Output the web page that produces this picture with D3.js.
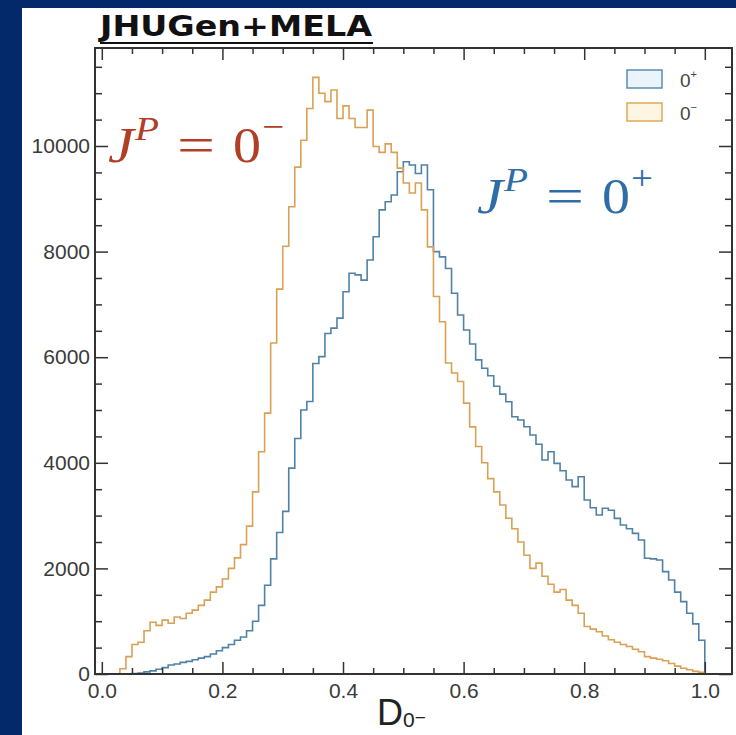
<!DOCTYPE html>
<html>
<head>
<meta charset="utf-8">
<script src="https://cdn.jsdelivr.net/npm/d3@7"></script>
<style>
  html, body { margin: 0; padding: 0; background: #03296a; }
  svg { display: block; }
</style>
</head>
<body>
<svg id="chart" width="736" height="735"></svg>
<script>
// histogram bins: 100 bins of width 0.01 on [0, 1]
const binWidth = 0.01;

// 0+ hypothesis (blue)
const countsPlus = [
  0, 0, 0, 0, 0, 10, 20, 40, 60, 90,
  120, 170, 190, 220, 240, 270, 300, 330, 380, 440,
  500, 560, 640, 700, 820, 1000, 1300, 1680, 2180, 2680,
  3080, 3900, 4460, 5000, 5160, 5880, 6010, 6450, 6550, 6740,
  7240, 7590, 7560, 7460, 7840, 8280, 8790, 8945, 9072, 9513,
  9703, 9640, 9480, 9640, 9170, 8000, 7900, 7680, 7210, 6800,
  6515, 6250, 5950, 5790, 5650, 5450, 5300, 5157, 4873, 4810,
  4684, 4526, 4350, 4053, 4210, 3990, 3850, 3674, 3548, 3737,
  3295, 3150, 3011, 3138, 3100, 2948, 2822, 2750, 2664, 2538,
  2191, 2180, 2159, 1938, 1780, 1550, 1370, 1150, 950, 640
];

// 0- hypothesis (orange)
const countsMinus = [
  0, 0, 0, 100, 330, 560, 600, 820, 980, 920,
  1020, 960, 1080, 1050, 1150, 1210, 1300, 1400, 1550, 1650,
  1800, 2000, 2200, 2450, 2800, 3450, 4210, 4940, 6270, 7290,
  8100, 8850, 9600, 10110, 10710, 11300, 11000, 10840, 11060, 10520,
  10760, 10520, 10350, 10350, 10680, 9990, 9880, 10040, 9880, 9580,
  9300, 9110, 9300, 8790, 8090, 7150, 6670, 5890, 5700, 5540,
  5130, 4680, 4310, 4000, 3700, 3450, 3200, 2950, 2750, 2500,
  2250, 2000, 2100, 1850, 1700, 1550, 1600, 1400, 1300, 1150,
  900, 850, 800, 720, 650, 600, 560, 520, 470, 420,
  330, 300, 280, 250, 200, 150, 110, 80, 50, 30
];

const xMajor = [0, 0.2, 0.4, 0.6, 0.8, 1.0];
const xMinor = [0.05, 0.1, 0.15, 0.25, 0.3, 0.35, 0.45, 0.5, 0.55, 0.65, 0.7, 0.75, 0.85, 0.9, 0.95];
const yMajor = [0, 2000, 4000, 6000, 8000, 10000];
const yMinor = [500, 1000, 1500, 2500, 3000, 3500, 4500, 5000, 5500, 6500, 7000, 7500, 8500, 9000, 9500, 10500, 11000, 11500];

const legendLabels = [
  { name: "0", sup: "+", stroke: "#5a8db3", fill: "#eaf5fb" },
  { name: "0", sup: "\u2212", stroke: "#e0a955", fill: "#fff5e3" }
];

const svg = d3.select("#chart");

// white panel on the dark slide background
svg.append("rect")
  .attr("x", 22).attr("y", 8)
  .attr("width", 736 - 22).attr("height", 735 - 8)
  .attr("fill", "#ffffff");

const frame = { left: 95, right: 732, top: 48, bottom: 674 };

const x = d3.scaleLinear()
  .domain([-0.0113, 1.0451])
  .range([frame.left, frame.right]);

const y = d3.scaleLinear()
  .domain([0, 11856])
  .range([frame.bottom, frame.top]);

function stepPoints(counts) {
  let pts = [[0, 0]];
  counts.forEach((v, i) => pts.push([i * binWidth, v]));
  pts.push([counts.length * binWidth, 0]);
  return pts;
}

const line = d3.line()
  .x(d => x(d[0]))
  .y(d => y(d[1]))
  .curve(d3.curveStepAfter);

const plot = svg.append("g");

plot.append("path")
  .datum(stepPoints(countsPlus))
  .attr("d", line)
  .attr("fill", "none")
  .attr("stroke", "#4f82a6")
  .attr("stroke-width", 1.6);

plot.append("path")
  .datum(stepPoints(countsMinus))
  .attr("d", line)
  .attr("fill", "none")
  .attr("stroke", "#d9a154")
  .attr("stroke-width", 1.6);

// axes, ticks pointing inward on all four sides
const axisColor = "#333";
const labelFont = "'Liberation Sans', Arial, sans-serif";

function styleAxis(g) {
  g.select(".domain").remove();
  g.selectAll(".tick line").attr("stroke", axisColor).attr("stroke-width", 1.5);
  g.selectAll(".tick text")
    .attr("fill", "#3a3a3a")
    .style("font-family", labelFont)
    .style("font-size", "21px");
}

svg.append("g")
  .attr("transform", `translate(0,${frame.bottom})`)
  .call(d3.axisBottom(x).tickValues(xMajor).tickSize(-12).tickPadding(9).tickFormat(d3.format(".1f")))
  .call(styleAxis);
svg.append("g")
  .attr("transform", `translate(0,${frame.bottom})`)
  .call(d3.axisBottom(x).tickValues(xMinor).tickSize(-6).tickFormat(""))
  .call(styleAxis);
svg.append("g")
  .attr("transform", `translate(0,${frame.top})`)
  .call(d3.axisTop(x).tickValues(xMajor).tickSize(-12).tickFormat(""))
  .call(styleAxis);
svg.append("g")
  .attr("transform", `translate(0,${frame.top})`)
  .call(d3.axisTop(x).tickValues(xMinor).tickSize(-6).tickFormat(""))
  .call(styleAxis);

svg.append("g")
  .attr("transform", `translate(${frame.left},0)`)
  .call(d3.axisLeft(y).tickValues(yMajor).tickSize(-13).tickPadding(5).tickFormat(d3.format("d")))
  .call(styleAxis);
svg.append("g")
  .attr("transform", `translate(${frame.left},0)`)
  .call(d3.axisLeft(y).tickValues(yMinor).tickSize(-7).tickFormat(""))
  .call(styleAxis);
svg.append("g")
  .attr("transform", `translate(${frame.right},0)`)
  .call(d3.axisRight(y).tickValues(yMajor).tickSize(-13).tickFormat(""))
  .call(styleAxis);
svg.append("g")
  .attr("transform", `translate(${frame.right},0)`)
  .call(d3.axisRight(y).tickValues(yMinor).tickSize(-7).tickFormat(""))
  .call(styleAxis);

svg.append("rect")
  .attr("x", frame.left).attr("y", frame.top)
  .attr("width", frame.right - frame.left)
  .attr("height", frame.bottom - frame.top)
  .attr("fill", "none")
  .attr("stroke", axisColor)
  .attr("stroke-width", 2);

// title
svg.append("text")
  .attr("x", 100).attr("y", 36)
  .attr("textLength", 272).attr("lengthAdjust", "spacingAndGlyphs")
  .style("font-family", "'DejaVu Sans', sans-serif")
  .style("font-weight", "bold")
  .style("font-size", "29px")
  .attr("fill", "#111")
  .text("JHUGen+MELA");
svg.append("line")
  .attr("x1", 100).attr("x2", 373)
  .attr("y1", 43).attr("y2", 43)
  .attr("stroke", "#111").attr("stroke-width", 2.2);

// x axis label D_{0-}
const xl = svg.append("text")
  .attr("x", 377).attr("y", 725)
  .style("font-family", labelFont)
  .attr("fill", "#222");
xl.append("tspan").style("font-size", "36px").text("D");
xl.append("tspan").attr("dy", 2).style("font-size", "21px").text("0");
xl.append("tspan").attr("dy", -3).style("font-size", "19px").text("\u2212");

// legend
const leg = svg.append("g");
legendLabels.forEach((d, i) => {
  const yy = 70 + i * 33;
  leg.append("rect")
    .attr("x", 627).attr("y", yy)
    .attr("width", 35).attr("height", 18)
    .attr("fill", d.fill).attr("stroke", d.stroke).attr("stroke-width", 1.5);
  const t = leg.append("text")
    .attr("x", 680).attr("y", yy + 17)
    .style("font-family", labelFont)
    .attr("fill", "#444");
  t.append("tspan").style("font-size", "19px").text(d.name);
  t.append("tspan").attr("dy", -9).style("font-size", "11px").text(d.sup);
});

// hypothesis annotations
function jp(x0, base, sign, color) {
  const g = svg.append("g").attr("fill", color)
    .style("font-family", "'Liberation Serif', 'Times New Roman', serif");
  g.append("text").attr("x", x0).attr("y", base)
    .style("font-style", "italic").style("font-size", "50px")
    .attr("textLength", 26).attr("lengthAdjust", "spacingAndGlyphs").text("J");
  g.append("text").attr("x", x0 + 27).attr("y", base - 22)
    .style("font-style", "italic").style("font-size", "34px")
    .attr("textLength", 24).attr("lengthAdjust", "spacingAndGlyphs").text("P");
  g.append("text").attr("x", x0 + 69).attr("y", base)
    .style("font-size", "50px")
    .attr("textLength", 38).attr("lengthAdjust", "spacingAndGlyphs").text("=");
  g.append("text").attr("x", x0 + 125).attr("y", base)
    .style("font-size", "50px")
    .attr("textLength", 28).attr("lengthAdjust", "spacingAndGlyphs").text("0");
  g.append("text").attr("x", x0 + 154).attr("y", base - 24)
    .style("font-size", "34px")
    .attr("textLength", 22).attr("lengthAdjust", "spacingAndGlyphs").text(sign);
}
jp(108, 162, "\u2212", "#b13f26");
jp(477, 213, "+", "#2e6da6");
</script>
</body>
</html>
